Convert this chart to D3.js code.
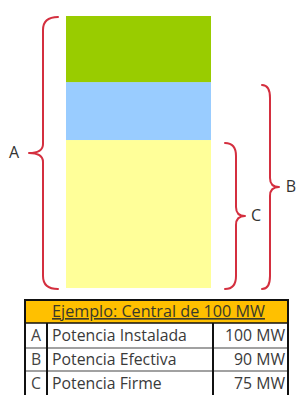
<!DOCTYPE html>
<html>
<head>
<meta charset="utf-8">
<script src="https://cdn.jsdelivr.net/npm/d3@7"></script>
<style>
  html, body { margin: 0; padding: 0; background: #fff; }
  svg { display: block; }
</style>
</head>
<body>
<script>
// ---- data ----
const segmentNames = ["Firme", "Efectiva", "Instalada"];
const segmentTops = [54.4, 75.7, 100];          // stacked levels as drawn (schematic)
const segmentColors = ["#FFFF99", "#99CCFF", "#99CC00"];

const braceLabels = ["A", "B", "C"];
const braceTops = [100, 75, 53.7];
const braceSides = ["left", "right", "right"];

const tableTitle = "Ejemplo: Central de 100 MW";
const rowLetters = ["A", "B", "C"];
const rowNames = ["Potencia Instalada", "Potencia Efectiva", "Potencia Firme"];
const rowValues = ["100 MW", "90 MW", "75 MW"];

// ---- layout ----
const W = 297, H = 395;
const svg = d3.select("body").append("svg").attr("width", W).attr("height", H);

const y = d3.scaleLinear().domain([0, 100]).range([288, 16]);
const barX0 = 66, barX1 = 211;

// bar segments
const segs = segmentTops.map((t, i) => ({ name: segmentNames[i], lo: i ? segmentTops[i - 1] : 0, hi: t, color: segmentColors[i] }));
svg.selectAll("rect.seg").data(segs).join("rect")
  .attr("class", "seg")
  .attr("x", barX0).attr("width", barX1 - barX0)
  .attr("y", d => y(d.hi)).attr("height", d => y(d.lo) - y(d.hi))
  .attr("fill", d => d.color);

// braces
const braceGeom = {
  A: { line: 43, edge: 58, tip: 29, label: 14 },
  B: { line: 270, edge: 262, tip: 279, label: 291 },
  C: { line: 236, edge: 225, tip: 245, label: 256 }
};
function bracePath(g, y0, y1) {
  const ym = (y0 + y1) / 2, r = 13, rm = 9;
  return `M${g.edge},${y0} Q${g.line},${y0} ${g.line},${y0 + r} L${g.line},${ym - rm} ` +
    `Q${g.line},${ym} ${g.tip},${ym} Q${g.line},${ym} ${g.line},${ym + rm} ` +
    `L${g.line},${y1 - r} Q${g.line},${y1} ${g.edge},${y1}`;
}
const braces = braceLabels.map((l, i) => ({ label: l, top: braceTops[i], side: braceSides[i] }));
braces.forEach(b => {
  const g = braceGeom[b.label];
  const y0 = y(b.top) + 1, y1 = y(0) + 1;
  svg.append("path").attr("d", bracePath(g, y0, y1))
    .attr("fill", "none").attr("stroke", "#d42f3f").attr("stroke-width", 2)
    .attr("stroke-linecap", "round").attr("stroke-linejoin", "round");
  svg.append("text").attr("x", g.label).attr("y", (y0 + y1) / 2 + 1)
    .attr("text-anchor", "middle").attr("dominant-baseline", "middle")
    .attr("font-family", "Open Sans, sans-serif").attr("font-size", 16)
    .attr("fill", "#333").text(b.label);
});

// ---- table ----
const tX0 = 25, tX1 = 288, cLetter = 47, cValue = 213;
const rowYs = [300, 323, 348, 371, 395];
const font = "Open Sans, sans-serif";
const fs = 15.8;

svg.append("rect").attr("x", tX0).attr("y", rowYs[0]).attr("width", tX1 - tX0).attr("height", rowYs[1] - rowYs[0])
  .attr("fill", "#FFC000");
svg.append("rect").attr("x", tX0).attr("y", rowYs[1]).attr("width", tX1 - tX0).attr("height", H - rowYs[1])
  .attr("fill", "#fff");

svg.append("text").attr("x", (tX0 + tX1) / 2 + 2).attr("y", rowYs[0] + 17)
  .attr("text-anchor", "middle").attr("font-family", font).attr("font-size", 16.2)
  .attr("fill", "#3a3a2a").attr("text-decoration", "underline").text(tableTitle);

rowLetters.forEach((l, i) => {
  const cy = (rowYs[i + 1] + rowYs[i + 2]) / 2 + 5.5;
  svg.append("text").attr("x", (tX0 + cLetter) / 2).attr("y", cy).attr("text-anchor", "middle")
    .attr("font-family", font).attr("font-size", fs).attr("fill", "#444").text(l);
  svg.append("text").attr("x", cLetter + 5).attr("y", cy)
    .attr("font-family", font).attr("font-size", fs).attr("fill", "#3a3a3a").text(rowNames[i]);
  svg.append("text").attr("x", tX1 - 3).attr("y", cy).attr("text-anchor", "end")
    .attr("font-family", font).attr("font-size", fs).attr("fill", "#3a3a3a").text(rowValues[i]);
});

// grid lines
[rowYs[2], rowYs[3]].forEach(yy => {
  svg.append("line").attr("x1", tX0).attr("x2", tX1).attr("y1", yy).attr("y2", yy)
    .attr("stroke", "#444").attr("stroke-width", 1.2);
});
svg.append("line").attr("x1", tX0).attr("x2", tX1).attr("y1", rowYs[1]).attr("y2", rowYs[1])
  .attr("stroke", "#111").attr("stroke-width", 1.5);
[cLetter, cValue].forEach(xx => {
  svg.append("line").attr("x1", xx).attr("x2", xx).attr("y1", rowYs[1]).attr("y2", H)
    .attr("stroke", "#111").attr("stroke-width", 2);
});
svg.append("rect").attr("x", tX0).attr("y", rowYs[0]).attr("width", tX1 - tX0).attr("height", H - rowYs[0] + 5)
  .attr("fill", "none").attr("stroke", "#111").attr("stroke-width", 2);
</script>
</body>
</html>
